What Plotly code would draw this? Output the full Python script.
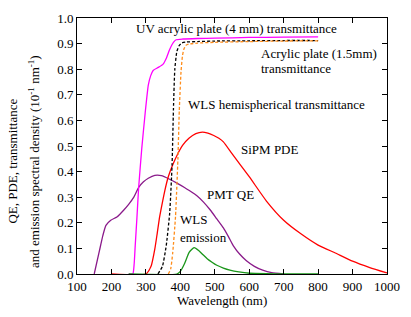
import plotly.graph_objects as go

# UV acrylic plate (4 mm) transmittance
uv_wl = [250, 262, 266, 269, 274, 279, 288, 298, 307, 314, 321, 336, 350, 360, 369, 380, 388, 407, 450, 500, 600, 700, 800]
uv_t = [0, 0.0, 0.04, 0.11, 0.22, 0.338, 0.49, 0.63, 0.738, 0.775, 0.795, 0.807, 0.82, 0.845, 0.877, 0.905, 0.915, 0.918, 0.92, 0.921, 0.924, 0.925, 0.926]

# WLS hemispherical transmittance
wls_t_wl = [335, 348, 359, 369, 376, 380, 384, 390, 397, 405, 415, 450, 500, 600, 700, 800]
wls_t = [0, 0.03, 0.11, 0.237, 0.427, 0.643, 0.8, 0.87, 0.893, 0.903, 0.906, 0.908, 0.91, 0.911, 0.912, 0.912]

# Acrylic plate (1.5 mm) transmittance
acr_wl = [365, 372, 378, 386, 393, 397, 402, 406, 410, 416, 425, 450, 500, 600, 700, 800]
acr_t = [0, 0.02, 0.085, 0.224, 0.45, 0.64, 0.79, 0.85, 0.877, 0.893, 0.898, 0.902, 0.905, 0.908, 0.91, 0.911]

# SiPM PDE
sipm_wl = [200, 300, 315, 326, 333, 340, 348, 355, 365, 378, 392, 407, 425, 445, 464, 480, 497, 512, 525, 550, 600, 650, 700, 750, 800, 850, 900, 950, 1000]
sipm_pde = [0, 0, 0.03, 0.098, 0.16, 0.224, 0.28, 0.326, 0.38, 0.427, 0.468, 0.503, 0.53, 0.548, 0.554, 0.55, 0.541, 0.53, 0.516, 0.47, 0.38, 0.285, 0.21, 0.157, 0.113, 0.082, 0.05, 0.025, 0.004]

# PMT QE
pmt_wl = [150, 165, 175, 184, 198, 217, 236, 250, 265, 279, 293, 307, 326, 345, 369, 390, 412, 426, 449, 468, 487, 506, 525, 540, 554, 572, 591, 615, 639, 665, 700]
pmt_qe = [0, 0.09, 0.15, 0.19, 0.21, 0.224, 0.25, 0.272, 0.30, 0.338, 0.36, 0.374, 0.385, 0.384, 0.37, 0.355, 0.338, 0.326, 0.305, 0.28, 0.25, 0.215, 0.18, 0.145, 0.11, 0.078, 0.053, 0.03, 0.015, 0.005, 0]

# WLS emission
em_wl = [250, 390, 400, 412, 426, 440, 454, 466, 478, 492, 506, 525, 544, 570, 601, 650, 700, 800]
em_d = [0, 0, 0.01, 0.04, 0.085, 0.103, 0.091, 0.075, 0.06, 0.046, 0.034, 0.023, 0.015, 0.008, 0.003, 0.001, 0, 0]

x_ticks = [100, 200, 300, 400, 500, 600, 700, 800, 900, 1000]
y_ticks = [0.0, 0.1, 0.2, 0.3, 0.4, 0.5, 0.6, 0.7, 0.8, 0.9, 1.0]

FONT = "Times New Roman, Liberation Serif, DejaVu Serif, serif"

fig = go.Figure()

def add(x, y, color, dash="solid"):
    fig.add_trace(go.Scatter(x=x, y=y, mode="lines",
                             line=dict(color=color, width=1.3, dash=dash, shape="spline", smoothing=0.5),
                             showlegend=False, hoverinfo="skip"))

add(pmt_wl, pmt_qe, "#8a1a8a")
add(sipm_wl, sipm_pde, "#ff0000")
add(uv_wl, uv_t, "#ff00ff")
add(wls_t_wl, wls_t, "#000000", "3px,2px")
add(acr_wl, acr_t, "#ff8c1a", "3px,2px")
add(em_wl, em_d, "#1a961a")

def ann(text, x, y):
    fig.add_annotation(text=text, x=x, y=y, xref="x", yref="y", showarrow=False,
                       xanchor="left", yanchor="middle", font=dict(family=FONT, size=13, color="black"))

ann("UV acrylic plate (4 mm) transmittance", 265, 0.958)
ann("Acrylic plate (1.5mm)", 628, 0.863)
ann("transmittance", 628, 0.802)
ann("WLS hemispherical transmittance", 415, 0.662)
ann("SiPM PDE", 571, 0.487)
ann("PMT QE", 472, 0.312)
ann("WLS", 392, 0.213)
ann("emission", 392, 0.144)

fig.add_annotation(text="QE, PDE, transmittance", x=-0.208, y=0.441, xref="paper", yref="paper",
                   showarrow=False, textangle=-90, xanchor="center", yanchor="middle",
                   font=dict(family=FONT, size=13, color="black"))
fig.add_annotation(text="and emission spectral density (10<sup>-1</sup> nm<sup>-1</sup>)", x=-0.139, y=0.441,
                   xref="paper", yref="paper", showarrow=False, textangle=-90, xanchor="center", yanchor="middle",
                   font=dict(family=FONT, size=13, color="black"))
fig.add_annotation(text="Wavelength (nm)", x=0.467, y=-0.102, xref="paper", yref="paper",
                   showarrow=False, xanchor="center", yanchor="middle",
                   font=dict(family=FONT, size=13, color="black"))

axis_common = dict(showline=True, linecolor="black", linewidth=1, mirror="ticks", ticks="inside",
                   ticklen=5, tickwidth=1, tickcolor="black", showgrid=False, zeroline=False,
                   tickfont=dict(family=FONT, size=13, color="black"))

fig.update_xaxes(range=[100, 1000], tickvals=x_ticks, ticktext=[str(v) for v in x_ticks], **axis_common)
fig.update_yaxes(range=[0, 1.0], tickvals=y_ticks, ticktext=[f"{v:.1f}" for v in y_ticks], **axis_common)

fig.update_layout(width=411, height=317, margin=dict(l=77, r=17, t=11, b=43),
                  paper_bgcolor="white", plot_bgcolor="white",
                  font=dict(family=FONT, size=13, color="black"))

fig.write_html("out.html", config={"displayModeBar": False},
               post_script="document.body.style.margin='0';document.body.style.padding='0';")
